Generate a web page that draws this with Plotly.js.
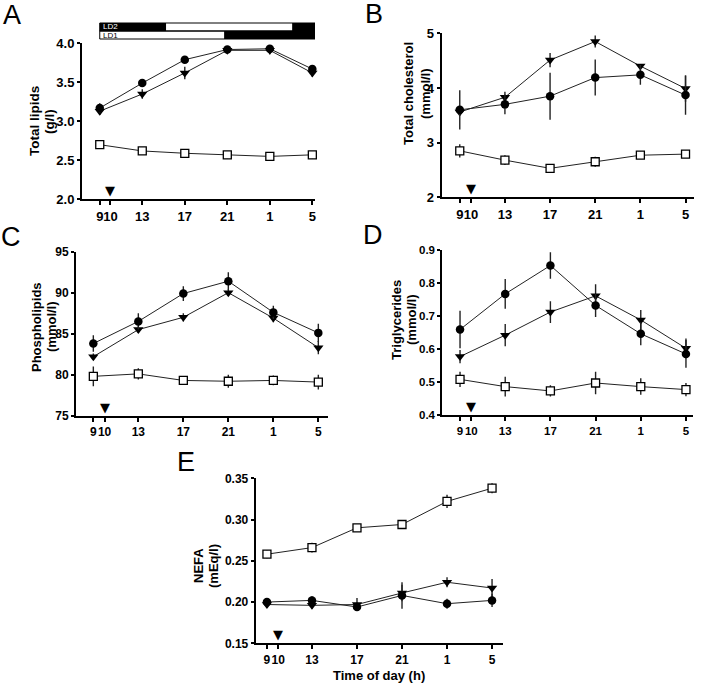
<!DOCTYPE html>
<html>
<head>
<meta charset="utf-8">
<script src="https://cdn.plot.ly/plotly-3.0.1.min.js"></script>
<style>html,body{margin:0;padding:0;background:#fff;}#chart{width:704px;height:689px;}</style>
</head>
<body>
<div id="chart"></div>
<script>
// ---- data ----
const hours = [9, 13, 17, 21, 25, 29];
const tickHours = [9, 10, 13, 17, 21, 25, 29];
const tickLabels = ['9', '10', '13', '17', '21', '1', '5'];
const arrowHour = 10;

// A: Total lipids (g/l)
const lipidsCircle = [3.17, 3.49, 3.79, 3.92, 3.93, 3.67];
const lipidsCircleErr = [0.06, 0.05, 0.03, 0.04, 0.04, 0.03];
const lipidsTri = [3.13, 3.35, 3.62, 3.91, 3.91, 3.62];
const lipidsTriErr = [0.05, 0.06, 0.08, 0.04, 0.05, 0.05];
const lipidsSq = [2.70, 2.62, 2.59, 2.57, 2.55, 2.57];
const lipidsSqErr = [0.03, 0.03, 0.03, 0.05, 0.02, 0.05];

// B: Total cholesterol (mmol/l)
const cholCircle = [3.60, 3.70, 3.85, 4.19, 4.24, 3.87];
const cholCircleErr = [0.36, 0.18, 0.43, 0.33, 0.18, 0.36];
const cholTri = [3.56, 3.83, 4.51, 4.85, 4.40, 3.99];
const cholTriErr = [0.06, 0.10, 0.13, 0.11, 0.04, 0.24];
const cholSq = [2.85, 2.68, 2.53, 2.65, 2.77, 2.79];
const cholSqErr = [0.12, 0.09, 0.08, 0.09, 0.07, 0.07];

// C: Phospholipids (mmol/l)
const phosCircle = [83.8, 86.5, 89.9, 91.4, 87.6, 85.1];
const phosCircleErr = [1.0, 1.0, 0.9, 1.1, 0.8, 1.1];
const phosTri = [82.2, 85.5, 87.0, 90.0, 86.9, 83.3];
const phosTriErr = [0.4, 0.4, 0.5, 0.4, 0.5, 0.8];
const phosSq = [79.8, 80.1, 79.3, 79.2, 79.3, 79.1];
const phosSqErr = [1.2, 0.7, 0.4, 0.8, 0.6, 0.9];

// D: Triglycerides (mmol/l)
const trigCircle = [0.659, 0.767, 0.853, 0.732, 0.646, 0.585];
const trigCircleErr = [0.057, 0.045, 0.040, 0.035, 0.035, 0.042];
const trigTri = [0.577, 0.642, 0.712, 0.761, 0.688, 0.602];
const trigTriErr = [0.020, 0.034, 0.033, 0.035, 0.030, 0.030];
const trigSq = [0.508, 0.486, 0.473, 0.497, 0.486, 0.477];
const trigSqErr = [0.023, 0.030, 0.017, 0.034, 0.025, 0.020];

// E: NEFA (mEq/l)
const nefaSq = [0.258, 0.266, 0.290, 0.294, 0.322, 0.338];
const nefaSqErr = [0.005, 0.006, 0.004, 0.003, 0.008, 0.006];
const nefaCircle = [0.200, 0.202, 0.194, 0.208, 0.198, 0.202];
const nefaCircleErr = [0.004, 0.005, 0.004, 0.016, 0.006, 0.008];
const nefaTri = [0.197, 0.196, 0.197, 0.211, 0.224, 0.217];
const nefaTriErr = [0.004, 0.004, 0.008, 0.010, 0.006, 0.011];

// Light/dark schedules (hours)
const ld2Dark1 = [9, 15.25];
const ld2Light = [15.25, 27.1];
const ld2Dark2 = [27.1, 29.25];
const ld1Light = [9, 20.7];
const ld1Dark = [20.7, 29.25];

// ---- layout helpers ----
const W = 704, H = 689;
const px = v => v / W;
const py = v => 1 - v / H;
const FONT = 'Liberation Sans, Arial, Helvetica, sans-serif';

const panels = [
  {key: '', circ: lipidsCircle, circE: lipidsCircleErr, tri: lipidsTri, triE: lipidsTriErr, sq: lipidsSq, sqE: lipidsSqErr,
   xd: [82, 315], yd: [43.3, 199.3], xr: [7.33, 29.25], yr: [2, 4], dtick: 0.5, fmt: '.1f', fs: 13, tfs: 13.5,
   t1: 'Total lipids', t2: '(g/l)', t1x: 34, t2x: 49, ty: 121, letter: 'A', lx: 12, ly: 15},
  {key: '2', circ: cholCircle, circE: cholCircleErr, tri: cholTri, triE: cholTriErr, sq: cholSq, sqE: cholSqErr,
   xd: [441.7, 694], yd: [33.3, 197.3], xr: [7.4, 29.75], yr: [2, 5], dtick: 1, fmt: 'd', fs: 13, tfs: 13,
   t1: 'Total cholesterol', t2: '(mmol/l)', t1x: 409, t2x: 426, ty: 94, letter: 'B', lx: 374, ly: 14},
  {key: '3', circ: phosCircle, circE: phosCircleErr, tri: phosTri, triE: phosTriErr, sq: phosSq, sqE: phosSqErr,
   xd: [76, 328], yd: [251.7, 415.7], xr: [7.46, 29.86], yr: [75, 95], dtick: 5, fmt: 'd', fs: 12, tfs: 13,
   t1: 'Phospholipids', t2: '(mmol/l)', t1x: 36, t2x: 51, ty: 327, letter: 'C', lx: 11, ly: 237},
  {key: '4', circ: trigCircle, circE: trigCircleErr, tri: trigTri, triE: trigTriErr, sq: trigSq, sqE: trigSqErr,
   xd: [442.3, 693.3], yd: [250, 415], xr: [7.43, 29.65], yr: [0.4, 0.9], dtick: 0.1, fmt: '.1f', fs: 11.5, tfs: 13,
   t1: 'Triglycerides', t2: '(mmol/l)', t1x: 396, t2x: 411, ty: 320, letter: 'D', lx: 373, ly: 235},
  {key: '5', circ: nefaCircle, circE: nefaCircleErr, tri: nefaTri, triE: nefaTriErr, sq: nefaSq, sqE: nefaSqErr,
   xd: [255.7, 503.3], yd: [478.3, 643.3], xr: [8.0, 30.0], yr: [0.15, 0.35], dtick: 0.05, fmt: '.2f', fs: 12, tfs: 13,
   t1: 'NEFA', t2: '(mEq/l)', t1x: 198, t2x: 213, ty: 566, letter: 'E', lx: 186, ly: 462}
];

const traces = [];
const layout = {
  width: W, height: H,
  margin: {l: 0, r: 0, t: 0, b: 0},
  paper_bgcolor: '#fff', plot_bgcolor: 'rgba(0,0,0,0)',
  showlegend: false,
  font: {family: FONT, color: '#000'},
  annotations: [], shapes: []
};

const lineStyle = {color: '#222', width: 1};
function errY(arr) {
  return {type: 'data', array: arr, visible: true, color: '#222', thickness: 1.4, width: 0};
}

panels.forEach(p => {
  const xa = 'x' + p.key, ya = 'y' + p.key;
  traces.push({
    x: hours, y: p.sq, xaxis: xa, yaxis: ya, type: 'scatter', mode: 'lines+markers',
    line: lineStyle, error_y: errY(p.sqE),
    marker: {symbol: 'square', size: 8, color: '#fff', line: {color: '#000', width: 1.3}},
    cliponaxis: false
  });
  traces.push({
    x: hours, y: p.tri, xaxis: xa, yaxis: ya, type: 'scatter', mode: 'lines+markers',
    line: lineStyle, error_y: errY(p.triE),
    marker: {symbol: 'triangle-down', size: 9, color: '#000', line: {width: 0}},
    cliponaxis: false
  });
  traces.push({
    x: hours, y: p.circ, xaxis: xa, yaxis: ya, type: 'scatter', mode: 'lines+markers',
    line: lineStyle, error_y: errY(p.circE),
    marker: {symbol: 'circle', size: 8.5, color: '#000', line: {width: 0}},
    cliponaxis: false
  });

  const axCommon = {
    showgrid: false, zeroline: false, showline: true, linecolor: '#000', linewidth: 2,
    ticks: 'outside', ticklen: 4, tickwidth: 2, tickcolor: '#000',
    tickfont: {family: FONT, size: p.fs, weight: 'bold', color: '#000'},
    fixedrange: true
  };
  layout['xaxis' + p.key] = Object.assign({}, axCommon, {
    domain: [px(p.xd[0]), px(p.xd[1])], range: p.xr, anchor: ya,
    tickmode: 'array', tickvals: tickHours, ticktext: tickLabels, tickangle: 0
  });
  layout['yaxis' + p.key] = Object.assign({}, axCommon, {
    domain: [py(p.yd[1]), py(p.yd[0])], range: p.yr, anchor: xa,
    dtick: p.dtick, tick0: p.yr[0], tickformat: p.fmt, ticklen: 3
  });

  const titleFont = {family: FONT, size: p.tfs, weight: 'bold', color: '#000'};
  [[p.t1, p.t1x], [p.t2, p.t2x]].forEach(([t, x]) => layout.annotations.push({
    text: t, xref: 'paper', yref: 'paper', x: px(x), y: py(p.ty),
    xanchor: 'center', yanchor: 'middle', textangle: -90, showarrow: false, font: titleFont
  }));
  layout.annotations.push({
    text: p.letter, xref: 'paper', yref: 'paper', x: px(p.lx), y: py(p.ly),
    xanchor: 'center', yanchor: 'middle', showarrow: false,
    font: {family: FONT, size: 27, color: '#000'}
  });
  layout.annotations.push({
    text: '▼', xref: xa, yref: ya + ' domain', x: arrowHour, y: 0,
    xanchor: 'center', yanchor: 'bottom', showarrow: false, yshift: -1,
    font: {family: 'DejaVu Sans, sans-serif', size: 13, color: '#000'}
  });
});

// X-axis title on panel E
layout.annotations.push({
  text: 'Time of day (h)', xref: 'paper', yref: 'paper', x: px(379), y: py(675),
  xanchor: 'center', yanchor: 'middle', showarrow: false,
  font: {family: FONT, size: 13, weight: 'bold', color: '#000'}
});

// LD bars above panel A
const rowLD2 = [py(31), py(23)];
const rowLD1 = [py(39), py(31)];
function seg(x, row, fill) {
  layout.shapes.push({type: 'rect', xref: 'x', yref: 'paper', x0: x[0], x1: x[1], y0: row[0], y1: row[1],
    fillcolor: fill, line: {width: 0}, layer: 'above'});
}
seg(ld2Dark1, rowLD2, '#000');
seg(ld2Light, rowLD2, '#fff');
seg(ld2Dark2, rowLD2, '#000');
seg(ld1Light, rowLD1, '#fff');
seg(ld1Dark, rowLD1, '#000');
[rowLD2, rowLD1].forEach(r => layout.shapes.push({type: 'rect', xref: 'x', yref: 'paper',
  x0: ld2Dark1[0], x1: ld2Dark2[1], y0: r[0], y1: r[1], line: {color: '#000', width: 1}, fillcolor: 'rgba(0,0,0,0)', layer: 'above'}));
layout.annotations.push({text: 'LD2', xref: 'x', yref: 'paper', x: ld2Dark1[0], y: (rowLD2[0] + rowLD2[1]) / 2,
  xanchor: 'left', yanchor: 'middle', showarrow: false, xshift: 1, font: {family: FONT, size: 8, color: '#fff'}});
layout.annotations.push({text: 'LD1', xref: 'x', yref: 'paper', x: ld1Light[0], y: (rowLD1[0] + rowLD1[1]) / 2,
  xanchor: 'left', yanchor: 'middle', showarrow: false, xshift: 1, font: {family: FONT, size: 8, color: '#000'}});

Plotly.newPlot('chart', traces, layout, {displayModeBar: false, staticPlot: true});
</script>
</body>
</html>
